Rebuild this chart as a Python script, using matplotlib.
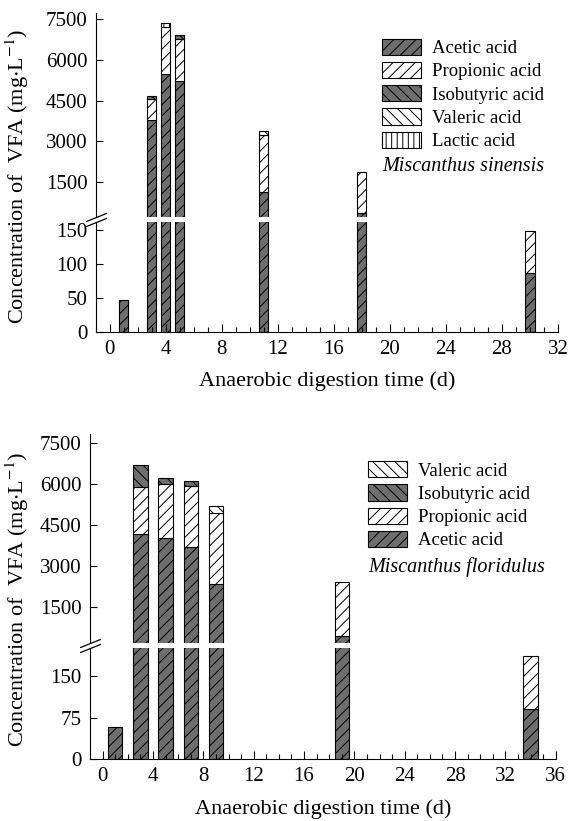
import matplotlib
matplotlib.use("Agg")
import matplotlib.pyplot as plt
from matplotlib.patches import Patch
from matplotlib.ticker import MultipleLocator

plt.rcParams['font.family'] = ['Liberation Serif', 'DejaVu Serif']
plt.rcParams['mathtext.fontset'] = 'stix'
plt.rcParams['hatch.linewidth'] = 0.7

# Miscanthus sinensis (top panel), mg/L
days_ms = [1, 3, 4, 5, 11, 18, 30]
acetic_ms = [47, 3780, 5480, 5220, 1130, 355, 86]
propionic_ms = [0, 775, 1750, 1540, 2095, 1490, 62]
isobutyric_ms = [0, 110, 0, 150, 0, 0, 0]
valeric_ms = [0, 0, 0, 0, 145, 0, 0]
lactic_ms = [0, 0, 150, 0, 0, 0, 0]

# Miscanthus floridulus (bottom panel), mg/L
days_mf = [1, 3, 5, 7, 9, 19, 34]
acetic_mf = [58, 4170, 4035, 3706, 2340, 428, 90]
propionic_mf = [0, 1730, 1990, 2232, 2625, 1987, 97]
isobutyric_mf = [0, 820, 220, 180, 0, 0, 0]
valeric_mf = [0, 0, 0, 0, 245, 0, 0]

dark = '#6e6e6e'
styles = {
    'Acetic acid': dict(facecolor=dark, hatch='///'),
    'Propionic acid': dict(facecolor='white', hatch='///'),
    'Isobutyric acid': dict(facecolor=dark, hatch='\\\\\\'),
    'Valeric acid': dict(facecolor='white', hatch='\\\\\\'),
    'Lactic acid': dict(facecolor='white', hatch='|||'),
}

fig = plt.figure(figsize=(5.7, 8.21), dpi=100)


def draw_panel(rect_hi, rect_lo, days, series, width, lims_hi, lims_lo,
               yt_hi, yt_lo, xmax):
    ax_hi = fig.add_axes(rect_hi)
    ax_lo = fig.add_axes(rect_lo)
    for ax, lim in ((ax_hi, lims_hi), (ax_lo, lims_lo)):
        bottoms = [0] * len(days)
        for name, vals in series:
            for i, d in enumerate(days):
                # skip empty segments and ones lying wholly outside this range
                if vals[i] > 0 and bottoms[i] + vals[i] > lim[0] and bottoms[i] < lim[1]:
                    ax.bar(d, vals[i], width, bottom=bottoms[i],
                           edgecolor='black', linewidth=0.8, **styles[name])
                bottoms[i] += vals[i]
        ax.set_xlim(-1, xmax)
        ax.set_ylim(*lim)
        ax.spines['top'].set_visible(False)
        ax.spines['right'].set_visible(False)
        ax.tick_params(direction='in', labelsize=15, length=5, width=0.8, pad=6)
    ax_hi.set_yticks(yt_hi)
    ax_lo.set_yticks(yt_lo)
    ax_hi.spines['bottom'].set_visible(False)
    ax_hi.tick_params(axis='x', which='both', bottom=False, labelbottom=False)
    ax_lo.xaxis.set_major_locator(MultipleLocator(4))
    ax_lo.xaxis.set_minor_locator(MultipleLocator(1))
    ax_lo.tick_params(axis='x', which='major', length=6)
    ax_lo.tick_params(axis='x', which='minor', direction='in', length=3.5, width=0.8)
    ax_lo.set_xlabel('Anaerobic digestion time (d)', fontsize=16, labelpad=9)
    # break marks on the left spine
    kw = dict(marker=[(-1, -0.4), (1, 0.4)], markersize=15, linestyle='none',
              color='black', mec='black', mew=0.9, clip_on=False)
    ax_hi.plot([0], [0], transform=ax_hi.transAxes, **kw)
    ax_lo.plot([0], [1], transform=ax_lo.transAxes, **kw)
    return ax_hi, ax_lo


series_ms = [('Acetic acid', acetic_ms), ('Propionic acid', propionic_ms),
             ('Isobutyric acid', isobutyric_ms), ('Valeric acid', valeric_ms),
             ('Lactic acid', lactic_ms)]
series_mf = [('Acetic acid', acetic_mf), ('Propionic acid', propionic_mf),
             ('Isobutyric acid', isobutyric_mf), ('Valeric acid', valeric_mf)]

draw_panel([0.168, 0.736, 0.811, 0.2485], [0.168, 0.596, 0.811, 0.134],
           days_ms, series_ms, 0.65, (200, 7750), (0, 162),
           [1500, 3000, 4500, 6000, 7500], [0, 50, 100, 150], 32)
draw_panel([0.158, 0.2172, 0.817, 0.2542], [0.158, 0.0755, 0.817, 0.1348],
           days_mf, series_mf, 1.15, (200, 7840), (0, 200),
           [1500, 3000, 4500, 6000, 7500], [0, 75, 150], 36)

ylabel = 'Concentration of  VFA (mg$\\cdot$L$^{-1}$)'
fig.text(0.03, 0.785, ylabel, rotation=90, ha='center', va='center', fontsize=16)
fig.text(0.03, 0.27, ylabel, rotation=90, ha='center', va='center', fontsize=16)

leg_kw = dict(frameon=False, fontsize=13.5, loc='upper left', handlelength=2.08,
              handleheight=0.96, labelspacing=0.25, handletextpad=0.57,
              borderpad=0, borderaxespad=0)

h_ms = [Patch(edgecolor='black', linewidth=0.8, label=n, **styles[n])
        for n, _ in series_ms]
fig.legend(handles=h_ms, bbox_to_anchor=(0.671, 0.953), **leg_kw)
fig.text(0.671, 0.797, 'Miscanthus sinensis', style='italic', fontsize=14.5,
         va='center', ha='left')

h_mf = [Patch(edgecolor='black', linewidth=0.8, label=n, **styles[n])
        for n, _ in series_mf[::-1]]
fig.legend(handles=h_mf, bbox_to_anchor=(0.646, 0.4385), **leg_kw)
fig.text(0.646, 0.3097, 'Miscanthus floridulus', style='italic', fontsize=14.5,
         va='center', ha='left')

fig.savefig('out.png', dpi=100)
